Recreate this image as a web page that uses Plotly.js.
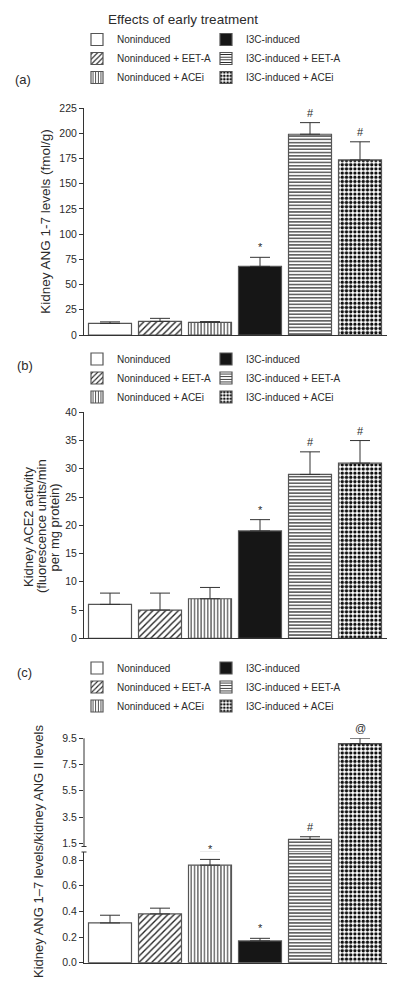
<!DOCTYPE html>
<html><head><meta charset="utf-8">
<script src="https://cdn.plot.ly/plotly-3.0.1.min.js"></script>
<style>html,body{margin:0;padding:0;background:#fff}#chart{width:400px;height:994px}</style>
</head><body><div id="chart"></div>
<script>
// ---------- data ----------
const categories = ['Noninduced', 'Noninduced + EET-A', 'Noninduced + ACEi', 'I3C-induced', 'I3C-induced + EET-A', 'I3C-induced + ACEi'];

const angValues = [11.5, 13.5, 12.5, 68, 199, 173.5];
const angErrors = [1.5, 3, 0.8, 9, 11.5, 18];
const angMarks = ['', '', '', '*', '#', '#'];
const angTicks = [0, 25, 50, 75, 100, 125, 150, 175, 200, 225];

const ace2Values = [6, 5, 7, 19, 29, 31];
const ace2Errors = [2, 3, 2, 2, 4, 4];
const ace2Marks = ['', '', '', '*', '#', '#'];
const ace2Ticks = [0, 5, 10, 15, 20, 25, 30, 35, 40];

const ratioValues = [0.31, 0.38, 0.76, 0.17, 1.8, 9.1];
const ratioErrors = [0.06, 0.045, 0.045, 0.02, 0.2, 0.4];
const ratioMarks = ['', '', '*', '*', '#', '@'];
const ratioLowTicks = [0, 0.2, 0.4, 0.6, 0.8];
const ratioHighTicks = [1.5, 3.5, 5.5, 7.5, 9.5];

const titleText = 'Effects of early treatment';
const panelLabels = ['(a)', '(b)', '(c)'];
const angTitle = 'Kidney ANG 1-7 levels (fmol/g)';
const ace2TitleLines = ['Kidney ACE2 activity', '(fluorescence units/min', 'per mg protein)'];
const ratioTitle = 'Kidney ANG 1–7 levels/kidney ANG II levels';

// ---------- styles / geometry ----------
const FONT = 'Liberation Sans, Arial, Helvetica, sans-serif';
const INK = '#2b2b2b';
const W = 400, H = 994, ML = 25;
const px = x => (x - ML) / (W - ML);
const py = y => 1 - y / H;

const barStyles = [
  {color: '#ffffff', pattern: {shape: ''}},
  {color: '#ffffff', pattern: {shape: '/', fgcolor: '#222', bgcolor: '#fff', size: 4.5, solidity: 0.3}},
  {color: '#ffffff', pattern: {shape: '|', fgcolor: '#222', bgcolor: '#fff', size: 3.3, solidity: 0.3}},
  {color: '#161616', pattern: {shape: ''}},
  {color: '#ffffff', pattern: {shape: '-', fgcolor: '#222', bgcolor: '#fff', size: 3.3, solidity: 0.35}},
  {color: '#ffffff', pattern: {shape: '.', fgcolor: '#111', bgcolor: '#fff', size: 4.2, solidity: 0.5}}
];

// legend column for each category: first three left column, last three right column
function legendFor(panel, i) {
  const n = panel * 2 + (i < 3 ? 1 : 2);
  return n === 1 ? 'legend' : 'legend' + n;
}

function barTraces(values, errors, xa, ya, panel, showLegend) {
  return categories.map((name, i) => ({
    type: 'bar',
    name: name,
    x: [i],
    y: [values[i]],
    xaxis: xa, yaxis: ya,
    legend: legendFor(panel, i),
    showlegend: showLegend,
    width: 0.86,
    marker: {
      color: barStyles[i].color,
      pattern: barStyles[i].pattern,
      line: {color: '#555', width: 1.2}
    },
    error_y: {type: 'data', symmetric: false, array: [errors[i]], arrayminus: [0],
              color: '#333', thickness: 1, width: 10},
    hoverinfo: 'skip'
  }));
}

const traces = [
  ...barTraces(angValues, angErrors, 'x', 'y', 0, true),
  ...barTraces(ace2Values, ace2Errors, 'x2', 'y2', 1, true),
  ...barTraces(ratioValues, ratioErrors, 'x3', 'y3', 2, true),
  ...barTraces(ratioValues, ratioErrors, 'x3', 'y4', 2, false)
];

const LOW_MAX = 0.8628;
function markAnnotations(values, errors, marks, xa, ya, highYa) {
  const out = [];
  marks.forEach((m, i) => {
    if (!m) return;
    const top = values[i] + errors[i];
    const yr = (highYa && top > LOW_MAX) ? highYa : ya;
    out.push({x: i, y: top, xref: xa, yref: yr, text: m, showarrow: false,
              xanchor: 'center', yanchor: 'bottom', yshift: 2,
              font: {family: FONT, size: 11, color: INK}});
  });
  return out;
}

function textAt(text, x, y, size, angle) {
  return {text: text, x: px(x), y: py(y), xref: 'paper', yref: 'paper', showarrow: false,
          xanchor: 'center', yanchor: 'middle', textangle: angle || 0,
          font: {family: FONT, size: size, color: INK}};
}

const xBase = {range: [-0.52, 5.54], domain: [px(84), px(387)], showline: true, linecolor: '#333',
  linewidth: 1, ticks: '', showticklabels: false, showgrid: false, zeroline: false, fixedrange: true};
const yBase = {ticks: 'outside', ticklen: 4, tickcolor: '#333', tickwidth: 1, showline: true,
  linecolor: '#333', linewidth: 1, showgrid: false, zeroline: false, fixedrange: true,
  tickfont: {family: FONT, size: 10.5, color: INK}, tickmode: 'array'};

const legendBase = {orientation: 'v', xanchor: 'left', yanchor: 'top',
  bgcolor: 'rgba(0,0,0,0)', borderwidth: 0, traceorder: 'normal',
  font: {family: FONT, size: 10, color: INK}};
const col1 = px(77), col2 = px(206);
const legendTops = [25, 344.5, 653.5];

const layout = {
  width: W, height: H,
  margin: {l: ML, r: 0, t: 0, b: 0},
  paper_bgcolor: '#fff', plot_bgcolor: 'rgba(0,0,0,0)',
  font: {family: FONT, color: INK},
  barmode: 'overlay',
  title: {text: titleText, x: 183 / W, xref: 'container', xanchor: 'center',
          y: 1 - 19 / H, yref: 'container', yanchor: 'middle',
          font: {family: FONT, size: 13.5, color: INK}},
  xaxis: {...xBase, anchor: 'y'},
  yaxis: {...yBase, anchor: 'x', domain: [py(335), py(108)], range: [0, 225], tickvals: angTicks,
          title: {text: angTitle, font: {family: FONT, size: 13.5, color: INK}, standoff: 5}},
  xaxis2: {...xBase, anchor: 'y2'},
  yaxis2: {...yBase, anchor: 'x2', domain: [py(638.3), py(412.3)], range: [0, 40], tickvals: ace2Ticks},
  xaxis3: {...xBase, anchor: 'y3'},
  yaxis3: {...yBase, anchor: 'x3', domain: [py(962.7), py(852)], range: [0, LOW_MAX],
           tickvals: ratioLowTicks, tickformat: '.1f'},
  yaxis4: {...yBase, anchor: 'x3', showline: false, domain: [py(852), py(738.3)], range: [0.837, 9.5],
           tickvals: ratioHighTicks, tickformat: '.1f'},
  legend:  {...legendBase, x: col1, y: py(legendTops[0])},
  legend2: {...legendBase, x: col2, y: py(legendTops[0])},
  legend3: {...legendBase, x: col1, y: py(legendTops[1])},
  legend4: {...legendBase, x: col2, y: py(legendTops[1])},
  legend5: {...legendBase, x: col1, y: py(legendTops[2])},
  legend6: {...legendBase, x: col2, y: py(legendTops[2])},
  shapes: [
    {type: 'line', xref: 'paper', yref: 'paper', x0: px(84), x1: px(84), y0: py(846.5), y1: py(738.3),
     line: {color: '#333', width: 1}},
    {type: 'line', xref: 'paper', yref: 'paper', x0: px(81.5), x1: px(86.5), y0: py(846.5), y1: py(846.5),
     line: {color: '#333', width: 1}},
    {type: 'line', xref: 'paper', yref: 'paper', x0: px(81.5), x1: px(86.5), y0: py(852), y1: py(852),
     line: {color: '#333', width: 1}}
  ],
  annotations: [
    textAt(panelLabels[0], 23, 79, 13),
    textAt(panelLabels[1], 25, 365.5, 13),
    textAt(panelLabels[2], 24, 672, 13),
    textAt(ace2TitleLines[0], 28, 527, 13, -90),
    textAt(ace2TitleLines[1], 41, 526, 13, -90),
    textAt(ace2TitleLines[2], 53.5, 528, 13, -90),
    textAt(ratioTitle, 38, 852, 13, -90),
    ...markAnnotations(angValues, angErrors, angMarks, 'x', 'y'),
    ...markAnnotations(ace2Values, ace2Errors, ace2Marks, 'x2', 'y2'),
    ...markAnnotations(ratioValues, ratioErrors, ratioMarks, 'x3', 'y3', 'y4')
  ]
};

Plotly.newPlot('chart', traces, layout, {staticPlot: true, displayModeBar: false});
</script></body></html>
